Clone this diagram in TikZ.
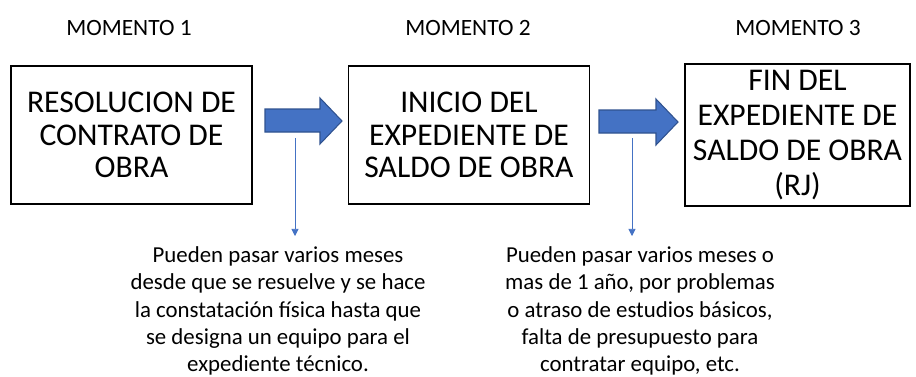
\documentclass[tikz,border=0pt]{standalone}
\usepackage{fontspec}
\setmainfont{Carlito}
\usepackage{xcolor}
\usetikzlibrary{positioning}
\usetikzlibrary{arrows.meta}
\definecolor{arrowblue}{HTML}{4472C4}
\definecolor{arrowedge}{HTML}{2F528F}

\begin{document}
\begin{tikzpicture}[
	x=0.02cm, y=-0.02cm,
	thick
]
\tikzset{
    myrect/.style = {rectangle, draw=black, align=center, line width=0.8pt,
        minimum width=4.82cm, minimum height=2.76cm, font=\fontsize{18}{18.6}\selectfont},
    mytitle/.style = {font=\fontsize{13.3}{15}\selectfont},
    mynote/.style = {align=center, font=\fontsize{13}{15.5}\selectfont},
    bigarrow/.style = {fill=arrowblue, draw=arrowedge, line width=0.6pt},
    thinarrow/.style = {draw=arrowblue, thin, -{Triangle[length=4pt,width=4pt]}}
}
\useasboundingbox (0,0) rectangle (916,376);
% momentos
\node[mytitle] (m1) at (129,28) {MOMENTO 1};
\node[mytitle] (m2) at (468,28) {MOMENTO 2};
\node[mytitle] (m3) at (798,28) {MOMENTO 3};
% cajas
\node[myrect] (b1) at (131.5,135) {RESOLUCION DE\\CONTRATO DE\\OBRA};
\node[myrect] (b2) at (469,135) {INICIO DEL\\EXPEDIENTE DE\\SALDO DE OBRA};
\node[myrect,minimum width=4.5cm,font=\fontsize{18}{20}\selectfont] (b3) at (797.5,135) {FIN DEL\\EXPEDIENTE DE\\SALDO DE OBRA\\(RJ)};
% flechas
\filldraw[bigarrow] (265,109) -- (320,109) -- (320,98) -- (342,121) -- (320,144) -- (320,132) -- (265,132) -- cycle;
\filldraw[bigarrow] (599,110) -- (656,110) -- (656,99) -- (678,122) -- (656,145) -- (656,133) -- (599,133) -- cycle;
% notas
\node[mynote] (n1) at (278,311) {Pueden pasar varios meses\\desde que se resuelve y se hace\\la constatación física hasta que\\se designa un equipo para el\\expediente técnico.};
\node[mynote] (n2) at (640,311) {Pueden pasar varios meses o\\mas de 1 año, por problemas\\o atraso de estudios básicos,\\falta de presupuesto para\\contratar equipo, etc.};
\coordinate (s1) at (295,138);
\coordinate (e1) at (295,236);
\coordinate (s2) at (632,138);
\coordinate (e2) at (632,236);
\draw[thinarrow] (s1) -- (e1);
\draw[thinarrow] (s2) -- (e2);
\end{tikzpicture}
\end{document}
